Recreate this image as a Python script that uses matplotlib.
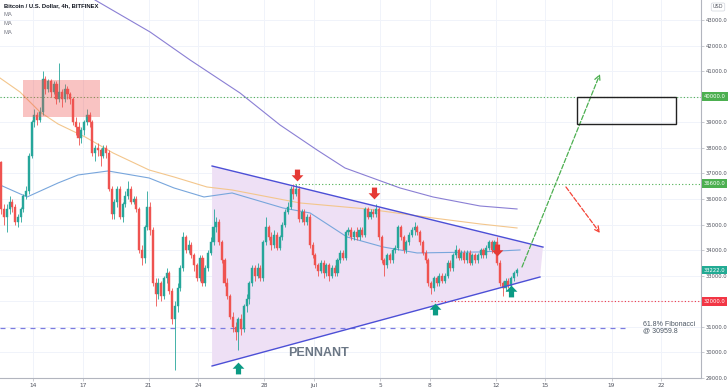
import matplotlib
matplotlib.use("Agg")
import matplotlib.pyplot as plt
from matplotlib.path import Path
from matplotlib.patches import Rectangle, Polygon
import matplotlib.transforms as mtransforms
import numpy as np

# ---------------------------------------------------------------- data ----
# 4h candles, day 0 = Jun 14 00:00, first candle Jun 12 00:00
first_open = 37450
closes = [
    35600, 35300, 35600, 35900, 35700, 35100,   # Jun 12
    35300, 35600, 36100, 36300, 37700, 39000,   # Jun 13
    39300, 39100, 39400, 40700, 40300, 40600,   # Jun 14
    40200, 40500, 39900, 40200, 39900, 40300,   # Jun 15
    40100, 39900, 39000, 38800, 38400, 38700,   # Jun 16
    39000, 39300, 39000, 37800, 38000, 37900,   # Jun 17
    37700, 38000, 37800, 36400, 35400, 35900,   # Jun 18
    36400, 35300, 35800, 36100, 36400, 35900,   # Jun 19
    36000, 35600, 34000, 33700, 34900, 35700,   # Jun 20
    34800, 32700, 32300, 32700, 32200, 32900,   # Jun 21
    33100, 32400, 31300, 31800, 32500, 33300,   # Jun 22
    34500, 34000, 34200, 33800, 33400, 32900,   # Jun 23
    33700, 32700, 33300, 33900, 34300, 34900,   # Jun 24
    35100, 34300, 33600, 32700, 32200, 31400,   # Jun 25
    31000, 30800, 31300, 30900, 31800, 32100,   # Jun 26
    32700, 33300, 33000, 33300, 32900, 34300,   # Jun 27
    34900, 34500, 34200, 34600, 34100, 34500,   # Jun 28
    35000, 35500, 35700, 36400, 36200, 36400,   # Jun 29
    35200, 35500, 35100, 35300, 34200, 33800,   # Jun 30
    33400, 33200, 33500, 33100, 33400, 33000,   # Jul 1
    33300, 33100, 33600, 33900, 33700, 34700,   # Jul 2
    34800, 34500, 34700, 34500, 34800, 34600,   # Jul 3
    35600, 35300, 35500, 35400, 35600, 34500,   # Jul 4
    33600, 33400, 33800, 33600, 34000, 34100,   # Jul 5
    34900, 34500, 34000, 34300, 34600, 34800,   # Jul 6
    34900, 34700, 34300, 33900, 33600, 32700,   # Jul 7
    32500, 32900, 32700, 33000, 32800, 33000,   # Jul 8
    33500, 33300, 33800, 34000, 33700, 33900,   # Jul 9
    33600, 33900, 33500, 33800, 33600, 33800,   # Jul 10
    34000, 33800, 34100, 34300, 34000, 34300,   # Jul 11
    33500, 32700, 32500, 32800, 32600, 32900,   # Jul 12
    33100, 33222,                               # Jul 13
]
highs = [
    37500, 35800, 35800, 36100, 36000, 35800,
    35400, 35700, 36200, 36500, 37800, 39100,
    39500, 39400, 39600, 41000, 40800, 40700,
    40700, 40600, 40600, 41300, 40300, 40500,
    40400, 40200, 40000, 39200, 39000, 38800,
    39100, 39500, 39400, 39100, 38100, 38200,
    38000, 38100, 38100, 37900, 36500, 36000,
    36500, 36500, 35900, 36300, 36700, 36500,
    36100, 36100, 35700, 34200, 35000, 36300,
    35900, 34900, 32900, 32900, 32800, 33000,
    33300, 33200, 32500, 32000, 32700, 33400,
    34700, 34600, 34400, 34300, 33900, 33500,
    33800, 33800, 33400, 34000, 34500, 35600,
    35300, 35200, 34400, 33700, 32900, 32300,
    31600, 31200, 31400, 31500, 31900, 32300,
    32800, 33400, 33400, 33500, 33400, 34400,
    35300, 35000, 34700, 34800, 34700, 34600,
    35100, 35600, 35900, 36500, 36600, 36600,
    36500, 35600, 35600, 35400, 35400, 34300,
    33900, 33500, 33600, 33600, 33500, 33500,
    33400, 33400, 33700, 34000, 34000, 34800,
    34900, 34900, 34800, 34900, 34900, 34900,
    35700, 35700, 35600, 35600, 35800, 35700,
    34600, 33700, 33900, 33900, 34100, 34200,
    35000, 35000, 34600, 34400, 34700, 34900,
    35100, 35000, 34800, 34400, 34000, 33700,
    32800, 33000, 33000, 33100, 33100, 33100,
    33600, 33600, 33900, 34200, 34100, 34000,
    34000, 34000, 34000, 33900, 33900, 33900,
    34100, 34100, 34200, 34400, 34400, 34400,
    34500, 33600, 32800, 32900, 32900, 33000,
    33200, 33300,
]
lows = [
    35400, 35000, 34700, 35400, 35500, 35000,
    34900, 35100, 35500, 36000, 36200, 37600,
    38800, 38900, 39000, 39300, 40100, 40200,
    40000, 40100, 39700, 39800, 39600, 39800,
    39900, 39700, 38900, 38500, 38100, 38200,
    38500, 38900, 38800, 37700, 37500, 37700,
    37300, 37600, 37600, 36300, 35200, 35200,
    35700, 35200, 35100, 35700, 36000, 35800,
    35800, 35500, 33900, 33400, 33500, 34800,
    34600, 32600, 31800, 32100, 32000, 32100,
    32700, 32300, 31100, 29300, 31600, 32400,
    33200, 33900, 33900, 33700, 33200, 32800,
    32800, 32600, 32600, 33200, 33800, 34200,
    34700, 34200, 33500, 32600, 32100, 31300,
    30800, 30500, 30100, 30700, 30800, 31600,
    31900, 32600, 32800, 32900, 32800, 32800,
    34200, 34400, 34000, 34100, 34000, 34000,
    34400, 34900, 35400, 35600, 36000, 36100,
    35100, 35100, 35000, 35000, 34100, 33700,
    33300, 33000, 33100, 32900, 33000, 32800,
    32900, 33000, 33000, 33500, 33600, 33600,
    34600, 34400, 34400, 34400, 34400, 34500,
    34500, 35200, 35200, 35300, 35300, 34400,
    33500, 33000, 33300, 33500, 33500, 33900,
    34000, 34400, 33900, 33900, 34200, 34500,
    34600, 34600, 34200, 33800, 33500, 32600,
    32300, 32400, 32600, 32600, 32700, 32700,
    32900, 33200, 33200, 33700, 33600, 33600,
    33500, 33500, 33400, 33400, 33500, 33500,
    33700, 33700, 33700, 34000, 33900, 33900,
    33400, 32600, 32200, 32400, 32500, 32500,
    32800, 33000,
]

# moving averages, (day, price)
ma_purple_days = [3.15, 3.75, 7.08, 9.50, 12.52, 14.94, 17.18, 18.87, 22.20, 24.20, 27.04, 29.28]
ma_purple_vals = [44100, 43782, 42531, 41436, 40146, 38895, 37917, 37213, 36431, 36079, 35727, 35610]
ma_orange_days = [-2.0, -0.79, 0.42, 1.51, 3.15, 4.84, 7.02, 8.53, 10.52, 12.04, 16.15, 20.20, 24.20, 27.04, 29.28]
ma_orange_vals = [40732, 40185, 39403, 38934, 38426, 37800, 37135, 36861, 36470, 36353, 35845, 35610, 35258, 35024, 34867]
ma_blue_days = [-2.0, -0.36, 1.51, 2.72, 4.54, 7.02, 8.53, 10.34, 12.04, 15.12, 16.76, 18.99, 21.17, 23.23, 27.04, 29.46]
ma_blue_vals = [36549, 36079, 36626, 36939, 37096, 36822, 36431, 36079, 36236, 35649, 35454, 34516, 34125, 33890, 33929, 34007]

# pennant corners (day, price)
pennant_top = [(10.83, 37290), (30.85, 34120)]
pennant_bottom = [(10.83, 29470), (30.67, 32950)]

# marked swing points
red_arrow_days = [15.97, 20.63, 28.07]
red_arrow_prices = [36940, 36236, 34007]
green_arrow_days = [12.40, 24.32, 28.92]
green_arrow_prices = [29393, 31700, 32404]

# levels
resistance_hi = 40000
resistance_mid = 36600
last_price = 33222
support = 32000
fib_level = 30959.8

# projections
bull_path = [(29.58, 33340), (34.30, 40890)]
bear_path = [(32.24, 36470), (34.30, 34670)]
target_box = (32.91, 38950, 38.90, 40000)
sell_zone = (-0.6, 39200, 4.05, 40650)

date_ticks = [0, 3, 7, 10, 14, 17, 21, 24, 28, 31, 35, 38]
date_labels = ["14", "17", "21", "24", "28", "Jul", "5", "8", "12", "15", "19", "22"]
price_ticks = list(range(29000, 44000, 1000))

# ---------------------------------------------------------------- plot ----
UP = "#26a69a"
DOWN = "#ef5350"
GRID = "#f0f3fa"
AXC = "#b2b5be"
TXT = "#50535e"

fig = plt.figure(figsize=(7.28, 3.91), dpi=100)
ax = fig.add_axes([0, 13 / 391, 701 / 728, 378 / 391])
ax.set_xlim(-2.0, 40.41)
ax.set_ylim(29000, 43782)

# grid
for d in date_ticks:
    ax.axvline(d, color=GRID, lw=0.7, zorder=0)
for p in price_ticks:
    ax.axhline(p, color=GRID, lw=0.7, zorder=0)

# pennant
(tx0, ty0), (tx1, ty1) = pennant_top
(bx0, by0), (bx1, by1) = pennant_bottom
ax.add_patch(Polygon([(tx0, ty0), (tx1, ty1), (bx1, by1), (bx0, by0)],
                     closed=True, facecolor="#eee0f5", edgecolor="none", zorder=1))
ax.plot([tx0, tx1], [ty0, ty1], color="#4c4fd6", lw=1.0, zorder=4)
ax.plot([bx0, bx1], [by0, by1], color="#4c4fd6", lw=1.0, zorder=4)

# moving averages
ax.plot(ma_purple_days, ma_purple_vals, color="#8a7fd4", lw=0.8, zorder=2)
ax.plot(ma_orange_days, ma_orange_vals, color="#f3c68c", lw=0.8, zorder=2)
ax.plot(ma_blue_days, ma_blue_vals, color="#78a6dc", lw=0.8, zorder=2)

# candles
closes = np.array(closes, dtype=float)
opens = np.concatenate([[first_open], closes[:-1]])
highs = np.array(highs, dtype=float)
lows = np.array(lows, dtype=float)
t = -2.0 + (np.arange(len(closes)) + 0.5) / 6.0
cols = np.where(closes >= opens, UP, DOWN)
ax.vlines(t, lows, highs, colors=cols, lw=0.6, zorder=3)
ax.bar(t, np.maximum(np.abs(closes - opens), 25), bottom=np.minimum(opens, closes),
       width=0.125, color=cols, edgecolor=cols, lw=0.3, zorder=3)

# sell zone
sx0, sy0, sx1, sy1 = sell_zone
ax.add_patch(Rectangle((sx0, sy0), sx1 - sx0, sy1 - sy0, facecolor="#ef5350",
                       alpha=0.35, edgecolor="none", zorder=4))

# levels
ax.axhline(resistance_hi, color="#4caf50", lw=0.8, ls=(0, (1, 2)), zorder=2)
ax.plot([15.85, 40.41], [resistance_mid] * 2, color="#4caf50", lw=0.8, ls=(0, (1, 2)), zorder=2)
ax.plot([24.1, 40.41], [support] * 2, color="#f23645", lw=0.8, ls=(0, (1, 2)), zorder=2)
ax.plot([-2.0, 36.1], [fib_level] * 2, color="#7b7be0", lw=0.9, ls=(0, (4, 4)), zorder=2)
ax.text(36.9, fib_level, "61.8% Fibonacci\n@ 30959.8", fontsize=5, color="#4a5562",
        family="Liberation Sans", va="center", ha="left", linespacing=0.95)

# arrows
down = Path([(-0.22, 0.5), (0.22, 0.5), (0.22, 0.02), (0.5, 0.02), (0, -0.5),
             (-0.5, 0.02), (-0.22, 0.02), (-0.22, 0.5)],
            [Path.MOVETO] + [Path.LINETO] * 6 + [Path.CLOSEPOLY])
up = Path(down.vertices * np.array([1, -1]), down.codes)
ax.plot(red_arrow_days, red_arrow_prices, ls="none", marker=down, ms=8.5,
        color="#e53935", mec="none", zorder=6)
ax.plot(green_arrow_days, green_arrow_prices, ls="none", marker=up, ms=8.5,
        color="#0b9a84", mec="none", zorder=6)

# projections
(gx0, gy0), (gx1, gy1) = bull_path
ax.annotate("", xy=(gx1, gy1), xytext=(gx0, gy0),
            arrowprops=dict(arrowstyle="->", color="#4caf50", lw=0.9, ls="--",
                            shrinkA=0, shrinkB=0), zorder=5)
(rx0, ry0), (rx1, ry1) = bear_path
ax.annotate("", xy=(rx1, ry1), xytext=(rx0, ry0),
            arrowprops=dict(arrowstyle="->", color="#f44336", lw=0.9, ls="--",
                            shrinkA=0, shrinkB=0), zorder=5)
bx_0, by_0, bx_1, by_1 = target_box
ax.add_patch(Rectangle((bx_0, by_0), bx_1 - bx_0, by_1 - by_0, facecolor="none",
                       edgecolor="#222222", lw=1.0, zorder=5))

ax.text(17.24, 29980, "PENNANT", fontsize=9, fontweight="bold", color="#6b7785",
        family="Liberation Sans", ha="center", va="center", zorder=6)

# axes styling
for s in ["top", "left"]:
    ax.spines[s].set_visible(False)
for s in ["right", "bottom"]:
    ax.spines[s].set_color(AXC)
    ax.spines[s].set_linewidth(0.8)
ax.yaxis.tick_right()
ax.set_yticks(price_ticks)
# the level tags sit on top of these two tick labels
hidden = {resistance_hi, support}
ax.set_yticklabels(["" if p in hidden else f"{p:.1f}" for p in price_ticks])
ax.set_xticks(date_ticks)
ax.set_xticklabels(date_labels)
ax.tick_params(axis="y", labelsize=3.8, colors=AXC, labelcolor=TXT, length=2, width=0.5, pad=1.5)
ax.tick_params(axis="x", labelsize=4.2, colors=AXC, labelcolor=TXT, length=2, width=0.5, pad=1.5)

# price tags on the right axis
trans = mtransforms.blended_transform_factory(ax.transAxes, ax.transData)
for val, bg in [(resistance_hi, "#4caf50"), (resistance_mid, "#4caf50"),
                (last_price, "#22ab94"), (support, "#f23645")]:
    ax.text(1.004, val, f"{val:.1f}", transform=trans, fontsize=3.8, color="white",
            va="center", ha="left", zorder=10, clip_on=False,
            bbox=dict(boxstyle="square,pad=0.35", facecolor=bg, edgecolor="none"))

# header
fig.text(4 / 728, 1 - 6 / 391, "Bitcoin / U.S. Dollar, 4h, BITFINEX", fontsize=4.2,
         fontweight="bold", color="#131722", family="Liberation Sans", va="center")
for i in range(3):
    fig.text(4 / 728, 1 - (15 + 8.5 * i) / 391, "MA", fontsize=4.2, color="#787b86",
             family="Liberation Sans", va="center")
fig.text(718 / 728, 1 - 7 / 391, "USD", fontsize=3.6, color=TXT, ha="center", va="center",
         bbox=dict(boxstyle="round,pad=0.3", facecolor="white", edgecolor="#d1d4dc", lw=0.5))

fig.savefig("out.png", dpi=100)
